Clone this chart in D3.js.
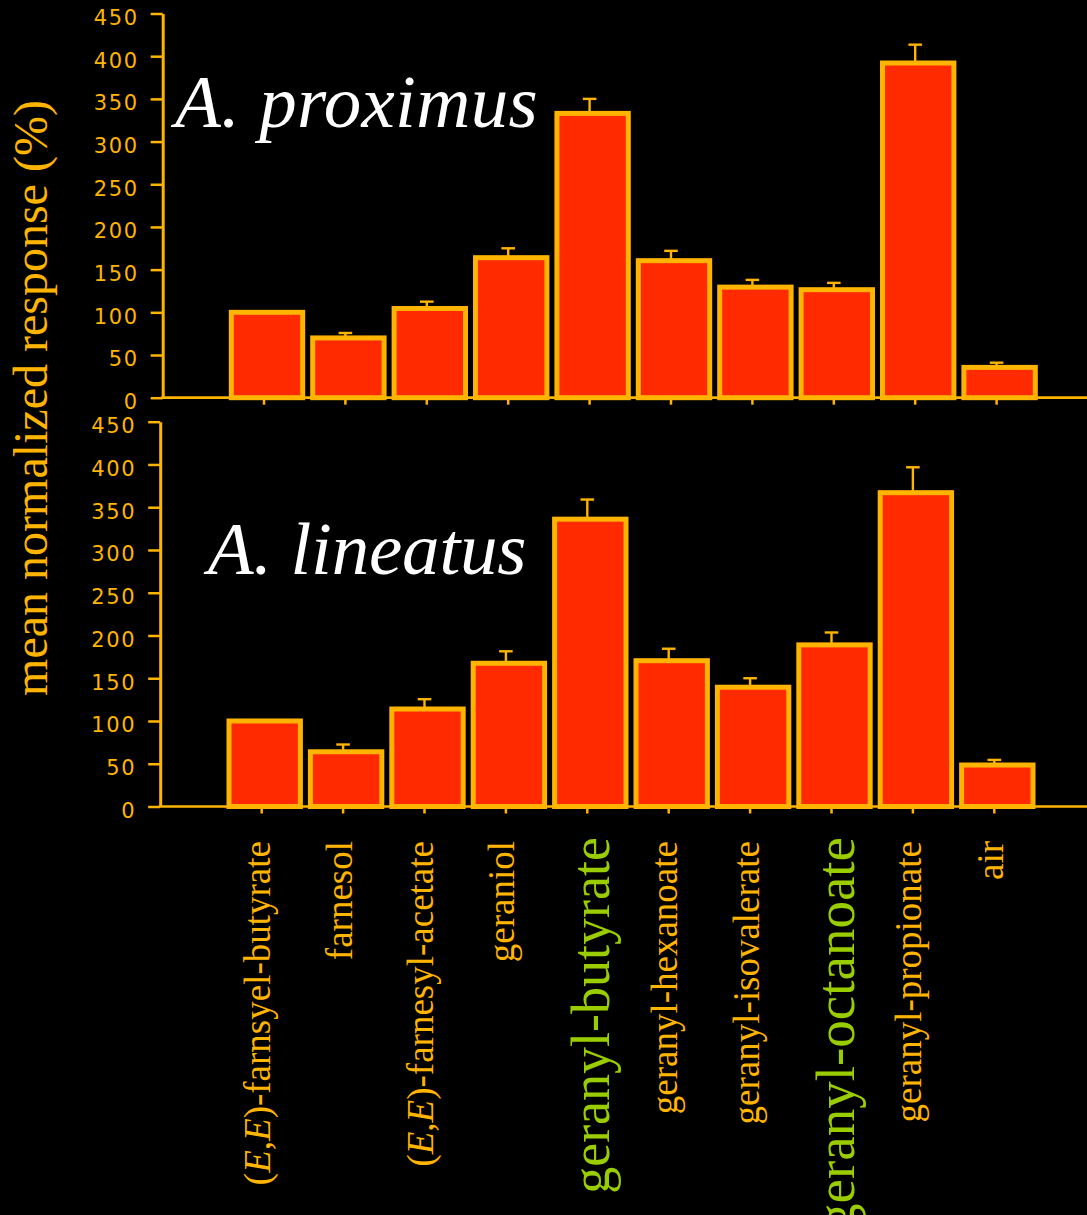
<!DOCTYPE html>
<html>
<head>
<meta charset="utf-8">
<script src="https://cdn.jsdelivr.net/npm/d3@7/dist/d3.min.js"></script>
<style>
  html, body { margin: 0; padding: 0; background: #000; }
  svg { display: block; }
</style>
</head>
<body>
<svg id="chart" width="1087" height="1215"></svg>
<script>
// ---- data ----
const categories = [
  "(E,E)-farnsyel-butyrate", "farnesol", "(E,E)-farnesyl-acetate", "geraniol",
  "geranyl-butyrate", "geranyl-hexanoate", "geranyl-isovalerate",
  "geranyl-octanoate", "geranyl-propionate", "air"
];
const highlighted = [false, false, false, false, true, false, false, true, false, false];
const proximusValues = [100, 70, 104.5, 164, 333, 160.5, 129.5, 126.5, 392, 35.5];
const proximusErrors = [0, 5.8, 8, 11, 17, 11.5, 8.5, 8, 21.5, 5.5];
const lineatusValues = [100, 64, 114, 167.5, 336, 170.5, 139.5, 189, 367, 48.5];
const lineatusErrors = [0, 8.5, 11.5, 14, 23, 14, 10.5, 14.5, 29.7, 6];
const yTicks = [0, 50, 100, 150, 200, 250, 300, 350, 400, 450];
const panelTitles = ["A. proximus", "A. lineatus"];
const yLabel = "mean normalized response (%)";

// ---- styles ----
const ORANGE = "#ffb400";
const FILL = "#ff2a00";
const GREEN = "#9acd00";
const TICK_SHIFT = -3; // ticks / error bars sit slightly left of bar centres

const svg = d3.select("#chart");
svg.append("rect").attr("width", 1087).attr("height", 1215).attr("fill", "#000");

const x = d3.scaleBand()
  .domain(categories)
  .range([226.3, 1040.3])
  .paddingInner(0.123)
  .paddingOuter(0.0615);
const tickX = c => x(c) + x.bandwidth() / 2 + TICK_SHIFT;

const panels = [
  { values: proximusValues, errors: proximusErrors, title: panelTitles[0],
    yRange: [397.7, 13.5], dx: 0, axisX: 162.7, titleX: 175, titleY: 127, titleSpacing: 0.3 },
  { values: lineatusValues, errors: lineatusErrors, title: panelTitles[1],
    yRange: [806.5, 421.7], dx: -2.3, axisX: 162.5, titleX: 210, titleY: 574, titleSpacing: -0.2 }
];

panels.forEach(p => {
  const y = d3.scaleLinear().domain([0, 450]).range(p.yRange);
  const g = svg.append("g").attr("transform", `translate(${p.dx},0)`);

  // y axis
  const yAxis = g.append("g")
    .attr("transform", `translate(${p.axisX},0)`)
    .call(d3.axisLeft(y).tickValues(yTicks).tickSize(12).tickSizeOuter(0).tickPadding(12));
  yAxis.select(".domain").attr("stroke", ORANGE).attr("stroke-width", 3);
  yAxis.selectAll(".tick line").attr("stroke", ORANGE).attr("stroke-width", 2.5);
  yAxis.selectAll(".tick text")
    .attr("fill", ORANGE)
    .attr("font-family", "'DejaVu Sans', Verdana, sans-serif")
    .attr("font-size", 21)
    .attr("letter-spacing", "1.6px")
    .attr("dy", "0.52em");

  // x axis baseline
  g.append("line")
    .attr("x1", p.axisX - 1.5).attr("x2", 1087 - p.dx)
    .attr("y1", y(0)).attr("y2", y(0))
    .attr("stroke", ORANGE).attr("stroke-width", 2.7);
  // x ticks
  const xAxis = g.append("g")
    .attr("transform", `translate(${TICK_SHIFT},${y(0)})`)
    .call(d3.axisBottom(x).tickSize(7).tickFormat(""));
  xAxis.select(".domain").remove();
  xAxis.selectAll(".tick line").attr("stroke", ORANGE).attr("stroke-width", 2.5);

  // error bars (upper only)
  const eg = g.append("g");
  categories.forEach((c, i) => {
    const cx = tickX(c);
    const top = y(p.values[i] + p.errors[i]);
    eg.append("line")
      .attr("x1", cx).attr("x2", cx)
      .attr("y1", y(p.values[i])).attr("y2", top)
      .attr("stroke", ORANGE).attr("stroke-width", 2.4);
    eg.append("line")
      .attr("x1", cx - 6.8).attr("x2", cx + 6.8)
      .attr("y1", top).attr("y2", top)
      .attr("stroke", ORANGE).attr("stroke-width", 2.4);
  });

  // bars
  g.append("g").selectAll("rect")
    .data(categories)
    .join("rect")
    .attr("x", c => x(c))
    .attr("width", x.bandwidth())
    .attr("y", (c, i) => y(p.values[i]))
    .attr("height", (c, i) => y(0) - y(p.values[i]))
    .attr("fill", FILL)
    .attr("stroke", ORANGE)
    .attr("stroke-width", 5);

  // title
  g.append("text")
    .attr("x", p.titleX).attr("y", p.titleY)
    .attr("fill", "#fff")
    .attr("font-family", "'Liberation Serif', 'Times New Roman', serif")
    .attr("font-style", "italic")
    .attr("font-size", 75)
    .attr("letter-spacing", p.titleSpacing + "px")
    .text(p.title);
});

// x category labels (rotated), below bottom panel
const labelG = svg.append("g").attr("transform", "translate(-2.3,0)");
categories.forEach((c, i) => {
  const cx = tickX(c);
  const big = highlighted[i];
  const size = big ? (c === "geranyl-octanoate" ? 55 : 54) : 37;
  const t = labelG.append("text")
    .attr("transform", `translate(${cx},${big ? 837 : 841}) rotate(-90)`)
    .attr("text-anchor", "end")
    .attr("dy", big ? "0.41em" : "0.23em")
    .attr("fill", big ? GREEN : ORANGE)
    .attr("font-family", "'Liberation Serif', 'Times New Roman', serif")
    .attr("font-size", size);
  const m = c.match(/^\(E,E\)(.*)$/);
  if (m) {
    t.append("tspan").text("(");
    t.append("tspan").attr("font-style", "italic").text("E");
    t.append("tspan").text(",");
    t.append("tspan").attr("font-style", "italic").text("E");
    t.append("tspan").text(")" + m[1]);
  } else {
    t.text(c);
  }
});

// y axis label
svg.append("text")
  .attr("transform", "translate(47,398) rotate(-90)")
  .attr("text-anchor", "middle")
  .attr("fill", ORANGE)
  .attr("font-family", "'Liberation Serif', 'Times New Roman', serif")
  .attr("font-size", 48)
  .text(yLabel);
</script>
</body>
</html>
